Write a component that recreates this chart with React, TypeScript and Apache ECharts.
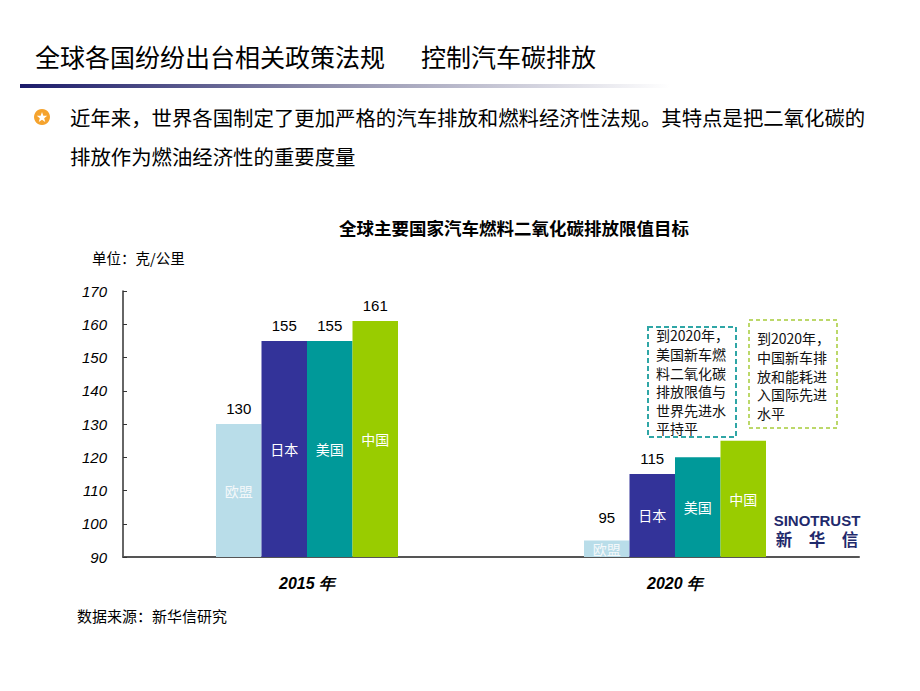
import React, { useEffect, useRef } from 'react';
import * as echarts from 'echarts';

// ---------- data ----------
const categories = ['2015 年', '2020 年'];
const countries = ['欧盟', '日本', '美国', '中国'];
const euValues = [130, 95];
const japanValues = [155, 115];
const usValues = [155, 120];
const chinaValues = [161, 125];
const showValueLabel = [
  [true, true],
  [true, true],
  [true, false],
  [true, false],
];
const yMin = 90;
const yMax = 170;
const yInterval = 10;

// ---------- texts ----------
const pageTitleA = '全球各国纷纷出台相关政策法规';
const pageTitleB = '控制汽车碳排放';
const bulletLine1 = '近年来，世界各国制定了更加严格的汽车排放和燃料经济性法规。其特点是把二氧化碳的';
const bulletLine2 = '排放作为燃油经济性的重要度量';
const chartTitle = '全球主要国家汽车燃料二氧化碳排放限值目标';
const unitText = '单位：克/公里';
const sourceText = '数据来源：新华信研究';
const usNote = ['到2020年，', '美国新车燃', '料二氧化碳', '排放限值与', '世界先进水', '平持平'];
const chinaNote = ['到2020年，', '中国新车排', '放和能耗进', '入国际先进', '水平'];
const logoEn = 'SINOTRUST';
const logoZh = '新　华　信';

// ---------- styles ----------
const barColors = ['#b9dde9', '#333399', '#009999', '#99cc00'];
const nameColors = ['#f4f8fa', '#ffffff', '#ffffff', '#ffffff'];
const CJK = '"Noto Sans CJK SC", "Noto Sans", sans-serif';
const LAT = '"Liberation Sans", Arial, sans-serif';

function starPoints(cx: number, cy: number, ro: number, ri: number) {
  const pts: number[][] = [];
  for (let k = 0; k < 10; k++) {
    const r = k % 2 === 0 ? ro : ri;
    const a = -Math.PI / 2 + (k * Math.PI) / 5;
    pts.push([cx + r * Math.cos(a), cy + r * Math.sin(a)]);
  }
  return pts;
}

export default function App() {
  const ref = useRef<HTMLDivElement>(null);

  useEffect(() => {
    if (!ref.current) return;
    const chart = echarts.init(ref.current, null, { renderer: 'svg' });
    const seriesValues = [euValues, japanValues, usValues, chinaValues];

    const series: any[] = [];
    seriesValues.forEach((vals, i) => {
      series.push({
        type: 'bar',
        name: countries[i],
        stack: 's' + i,
        data: vals,
        barWidth: 45.5,
        barGap: '0%',
        silent: true,
        itemStyle: { color: barColors[i] },
        label: {
          show: true,
          position: 'inside',
          formatter: countries[i],
          color: nameColors[i],
          fontSize: 14,
          fontFamily: CJK,
        },
      });
      series.push({
        type: 'bar',
        stack: 's' + i,
        data: vals.map((_, j) => ({
          value: 0,
          label: { distance: i === 0 && j === 1 ? 15 : 8 },
        })),
        barWidth: 45.5,
        barGap: '0%',
        silent: true,
        itemStyle: { color: 'rgba(0,0,0,0)' },
        label: {
          show: true,
          position: 'top',
          formatter: (p: any) =>
            showValueLabel[i][p.dataIndex] ? String(vals[p.dataIndex]) : '',
          color: '#000',
          fontSize: 15,
          fontFamily: LAT,
        },
      });
    });

    const txt = (x: number, y: number, text: string, style: any) => ({
      type: 'text',
      x,
      y,
      silent: true,
      style: { text, fill: '#000', verticalAlign: 'middle', align: 'left', ...style },
    });

    const graphic: any[] = [
      txt(35, 56, pageTitleA, { fontSize: 25, fontFamily: CJK }),
      txt(421, 56, pageTitleB, { fontSize: 25, fontFamily: CJK }),
      {
        type: 'rect',
        silent: true,
        shape: { x: 20, y: 84, width: 650, height: 4 },
        style: {
          fill: new echarts.graphic.LinearGradient(0, 0, 1, 0, [
            { offset: 0, color: '#1a1a6a' },
            { offset: 0.45, color: '#8a8aa8' },
            { offset: 1, color: '#ffffff' },
          ]),
        },
      },
      {
        type: 'circle',
        silent: true,
        shape: { cx: 42, cy: 117, r: 8 },
        style: { fill: '#f5a32e' },
      },
      {
        type: 'polygon',
        silent: true,
        shape: { points: starPoints(42, 117.5, 5.5, 2.3) },
        style: { fill: '#ffffff' },
      },
      txt(70, 117, bulletLine1, { fontSize: 20.4, fontFamily: CJK }),
      txt(70, 156, bulletLine2, { fontSize: 20.4, fontFamily: CJK }),
      txt(514, 227, chartTitle, { fontSize: 17.5, fontWeight: 'bold', fontFamily: CJK, align: 'center' }),
      txt(92, 257, unitText, { fontSize: 14.5, fontFamily: CJK }),
      txt(77, 615, sourceText, { fontSize: 15, fontFamily: CJK }),
      {
        type: 'rect',
        silent: true,
        shape: { x: 648, y: 327, width: 88, height: 110 },
        style: { fill: '#ffffff', stroke: '#2fa6a6', lineWidth: 2, lineDash: [5, 3] },
      },
      {
        type: 'text',
        x: 656,
        y: 326,
        silent: true,
        style: {
          text: usNote.join('\n'),
          fontSize: 14,
          lineHeight: 18.6,
          fontFamily: CJK,
          fill: '#111',
          verticalAlign: 'top',
          align: 'left',
        },
      },
      {
        type: 'rect',
        silent: true,
        shape: { x: 749, y: 320, width: 88, height: 108 },
        style: { fill: '#ffffff', stroke: '#a6cc3a', lineWidth: 1.5, lineDash: [4, 3] },
      },
      {
        type: 'text',
        x: 757,
        y: 329,
        silent: true,
        style: {
          text: chinaNote.join('\n'),
          fontSize: 14,
          lineHeight: 18.6,
          fontFamily: CJK,
          fill: '#111',
          verticalAlign: 'top',
          align: 'left',
        },
      },
      {
        type: 'rect',
        silent: true,
        shape: { x: 768, y: 507, width: 95, height: 44 },
        style: { fill: '#ffffff' },
      },
      txt(817, 520, logoEn, { fontSize: 15, fontWeight: 'bold', fontFamily: LAT, fill: '#1f2a6c', align: 'center' }),
      txt(817, 539, logoZh, { fontSize: 16.5, fontWeight: 'bold', fontFamily: CJK, fill: '#1f2a6c', align: 'center' }),
    ];

    chart.setOption({
      animation: false,
      backgroundColor: '#ffffff',
      grid: { left: 123, right: 61, top: 291, bottom: 134, containLabel: false },
      xAxis: {
        type: 'category',
        data: categories,
        axisLine: { lineStyle: { color: '#555', width: 2 } },
        axisTick: { inside: true, length: 6, lineStyle: { color: '#333' } },
        axisLabel: {
          margin: 18,
          fontSize: 16,
          fontWeight: 'bold',
          fontStyle: 'italic',
          fontFamily: LAT,
          color: '#000',
        },
        splitLine: { show: false },
      },
      yAxis: {
        type: 'value',
        min: yMin,
        max: yMax,
        interval: yInterval,
        axisLine: { show: true, lineStyle: { color: '#333', width: 1.5 } },
        axisTick: { show: true, inside: true, length: 4, lineStyle: { color: '#333' } },
        axisLabel: {
          margin: 16,
          fontSize: 15,
          fontStyle: 'italic',
          fontFamily: LAT,
          color: '#000',
        },
        splitLine: { show: false },
      },
      series,
      graphic,
    });

    return () => chart.dispose();
  }, []);

  return (
    <div
      ref={ref}
      style={{ position: 'fixed', left: 0, top: 0, width: 920, height: 691, background: '#fff' }}
    />
  );
}
